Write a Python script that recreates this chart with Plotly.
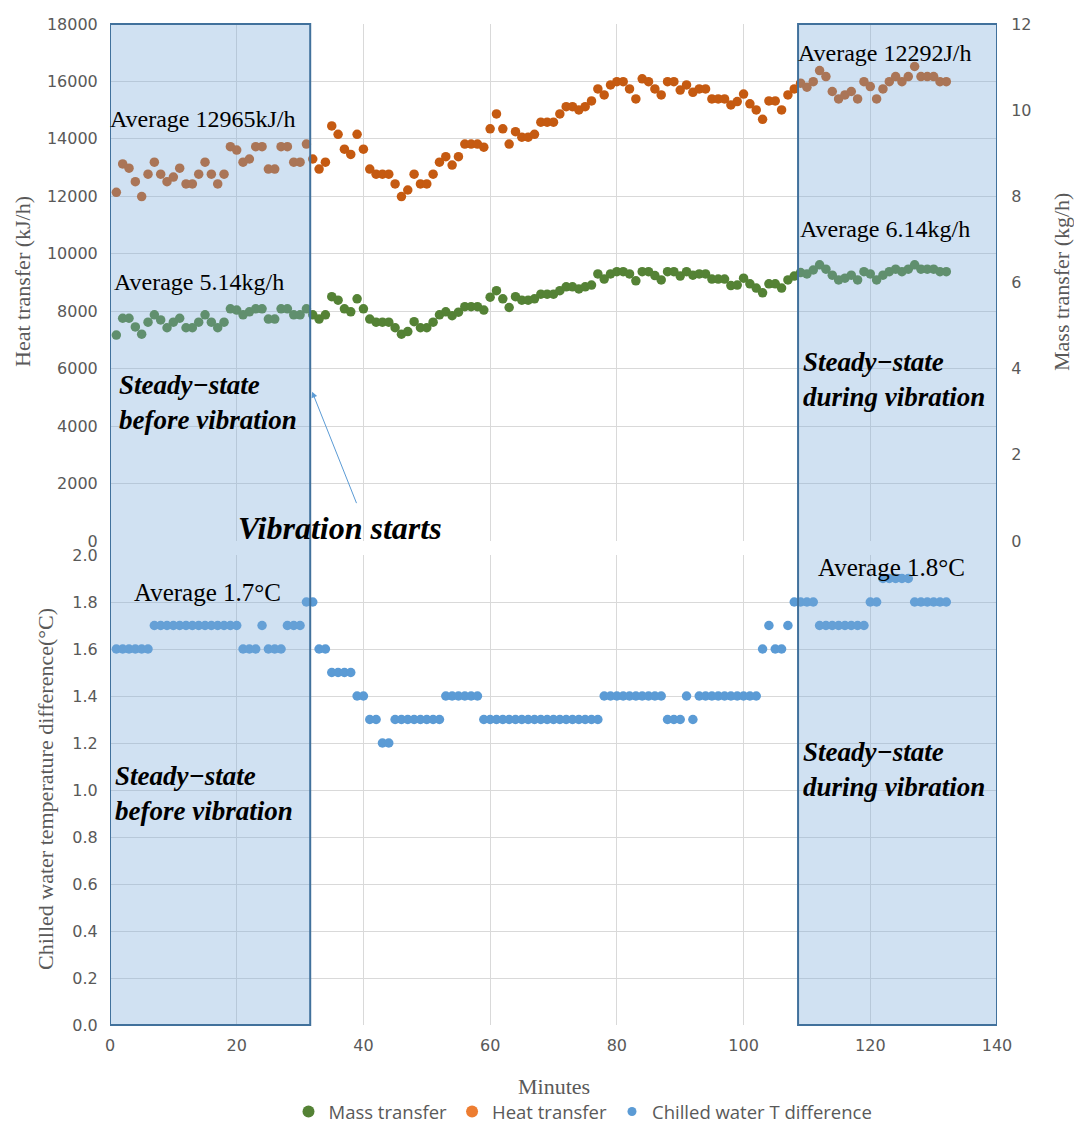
import plotly.graph_objects as go

# ---------------- data ----------------
minutes = list(range(1, 133))

heat_transfer = [
    12140, 13130, 12980, 12510, 11990, 12770, 13190, 12770, 12510, 12670,
    12980, 12430, 12430, 12770, 13190, 12770, 12430, 12770, 13730, 13610,
    13190, 13300, 13730, 13730, 12950, 12950, 13730, 13730, 13190, 13190,
    13820, 13300, 12950, 13190, 14450, 14160, 13640, 13460, 14160, 13640,
    12950, 12770, 12770, 12770, 12430, 11990, 12220, 12770, 12430, 12430,
    12770, 13190, 13380, 13090, 13380, 13820, 13820, 13820, 13710, 14350,
    14870, 14350, 13820, 14250, 14060, 14060, 14160, 14580, 14580, 14580,
    14870, 15120, 15120, 15010, 15120, 15320, 15740, 15530, 15880, 15990,
    15990, 15740, 15390, 16090, 15990, 15740, 15530, 15990, 15990, 15700,
    15880, 15620, 15740, 15740, 15390, 15390, 15390, 15180, 15300, 15560,
    15220, 15010, 14680, 15320, 15320, 15010, 15530, 15740, 15940, 15800,
    15990, 16380, 16170, 15650, 15390, 15530, 15650, 15390, 15990, 15820,
    15390, 15740, 15990, 16170, 15990, 16170, 16520, 16170, 16170, 16170,
    15990, 15990,
]

mass_transfer = [
    4.78, 5.17, 5.17, 4.97, 4.80, 5.08, 5.25, 5.13, 4.95, 5.08,
    5.17, 4.95, 4.95, 5.08, 5.25, 5.08, 4.95, 5.08, 5.39, 5.36,
    5.25, 5.32, 5.39, 5.39, 5.15, 5.15, 5.39, 5.39, 5.25, 5.25,
    5.39, 5.25, 5.15, 5.25, 5.67, 5.59, 5.39, 5.32, 5.62, 5.39,
    5.15, 5.08, 5.08, 5.08, 4.95, 4.80, 4.86, 5.09, 4.95, 4.95,
    5.08, 5.25, 5.32, 5.23, 5.31, 5.44, 5.44, 5.44, 5.36, 5.66,
    5.81, 5.62, 5.42, 5.67, 5.59, 5.59, 5.62, 5.73, 5.73, 5.73,
    5.81, 5.90, 5.90, 5.85, 5.90, 5.94, 6.20, 6.08, 6.20, 6.25,
    6.25, 6.20, 6.04, 6.25, 6.25, 6.16, 6.06, 6.25, 6.25, 6.15,
    6.25, 6.17, 6.20, 6.20, 6.08, 6.08, 6.08, 5.93, 5.94, 6.10,
    5.97, 5.87, 5.76, 5.97, 5.97, 5.87, 6.06, 6.15, 6.23, 6.20,
    6.29, 6.41, 6.31, 6.17, 6.06, 6.10, 6.17, 6.06, 6.25, 6.20,
    6.06, 6.17, 6.25, 6.31, 6.25, 6.31, 6.41, 6.31, 6.31, 6.31,
    6.25, 6.25,
]

chilled_dt = [
    1.6, 1.6, 1.6, 1.6, 1.6, 1.6, 1.7, 1.7, 1.7, 1.7,
    1.7, 1.7, 1.7, 1.7, 1.7, 1.7, 1.7, 1.7, 1.7, 1.7,
    1.6, 1.6, 1.6, 1.7, 1.6, 1.6, 1.6, 1.7, 1.7, 1.7,
    1.8, 1.8, 1.6, 1.6, 1.5, 1.5, 1.5, 1.5, 1.4, 1.4,
    1.3, 1.3, 1.2, 1.2, 1.3, 1.3, 1.3, 1.3, 1.3, 1.3,
    1.3, 1.3, 1.4, 1.4, 1.4, 1.4, 1.4, 1.4, 1.3, 1.3,
    1.3, 1.3, 1.3, 1.3, 1.3, 1.3, 1.3, 1.3, 1.3, 1.3,
    1.3, 1.3, 1.3, 1.3, 1.3, 1.3, 1.3, 1.4, 1.4, 1.4,
    1.4, 1.4, 1.4, 1.4, 1.4, 1.4, 1.4, 1.3, 1.3, 1.3,
    1.4, 1.3, 1.4, 1.4, 1.4, 1.4, 1.4, 1.4, 1.4, 1.4,
    1.4, 1.4, 1.6, 1.7, 1.6, 1.6, 1.7, 1.8, 1.8, 1.8,
    1.8, 1.7, 1.7, 1.7, 1.7, 1.7, 1.7, 1.7, 1.7, 1.8,
    1.8, 1.9, 1.9, 1.9, 1.9, 1.9, 1.8, 1.8, 1.8, 1.8,
    1.8, 1.8,
]

steady_before = (0, 31.6)
steady_during = (108.6, 140)

series_names = ["Mass transfer", "Heat transfer", "Chilled water T difference"]

# ---------------- layout helpers ----------------
OFF = 0                      # body margin removed via post_script
W, H = 1074, 1124            # figure size
L, T = 110 - OFF, 24 - OFF
R = W - (997 - OFF)
B = H - (1025 - OFF)
PW, PH = W - L - R, H - T - B


def xp(px):
    """page pixel x -> paper x"""
    return (px - OFF - L) / PW


def yp(py):
    """page pixel y -> paper y"""
    return (H - B - (py - OFF)) / PH


SERIF = "Liberation Serif, Times New Roman, serif"
SANS = "DejaVu Sans, Open Sans, sans-serif"
LEGSANS = "Open Sans, DejaVu Sans, sans-serif"
GRAY = "#595959"
GRID = "#d9d9d9"

fig = go.Figure()

fig.add_trace(go.Scatter(x=minutes, y=heat_transfer, mode="markers", xaxis="x2", yaxis="y2",
                         marker=dict(color="#c55a11", size=9.5), showlegend=False, name=series_names[1]))
fig.add_trace(go.Scatter(x=minutes, y=mass_transfer, mode="markers", xaxis="x2", yaxis="y3",
                         marker=dict(color="#548235", size=9.5), showlegend=False, name=series_names[0]))
fig.add_trace(go.Scatter(x=minutes, y=chilled_dt, mode="markers", xaxis="x", yaxis="y",
                         marker=dict(color="#5b9bd5", size=9.5), showlegend=False, name=series_names[2]))

# legend entries
for name, col, sz in [(series_names[0], "#548235", 12), (series_names[1], "#ed7d31", 12),
                      (series_names[2], "#5b9bd5", 9)]:
    fig.add_trace(go.Scatter(x=[None], y=[None], mode="markers", name=name,
                             marker=dict(color=col, size=sz), xaxis="x", yaxis="y"))

top_dom = [yp(541), 1.0]
bot_dom = [0.0, yp(555)]

tickfont = dict(family=SANS, size=16, color=GRAY)
axis_common = dict(showgrid=True, gridcolor=GRID, gridwidth=1, zeroline=False, showline=False,
                   tickfont=tickfont, automargin=False)

fig.update_layout(
    width=W, height=H,
    margin=dict(l=L, r=R, t=T, b=B, autoexpand=False),
    paper_bgcolor="white", plot_bgcolor="white",
    xaxis=dict(domain=[0, 1], range=[0, 140], dtick=20, anchor="y", ticks="outside",
               ticklen=6, tickcolor="rgba(0,0,0,0)", **axis_common),
    yaxis=dict(domain=bot_dom, range=[0, 2.0], dtick=0.2, tickformat=".1f", anchor="x",
               ticks="outside", ticklen=8, tickcolor="rgba(0,0,0,0)", **axis_common),
    xaxis2=dict(domain=[0, 1], range=[0, 140], dtick=20, anchor="y2", matches="x",
                showticklabels=False, ticks="", showgrid=True, gridcolor=GRID, zeroline=False),
    yaxis2=dict(domain=top_dom, range=[0, 18000], dtick=2000, tickformat="d", anchor="x2",
                ticks="outside", ticklen=8, tickcolor="rgba(0,0,0,0)", **axis_common),
    yaxis3=dict(domain=top_dom, range=[0, 12], dtick=2, anchor="x2", overlaying="y2", side="right",
                showgrid=False, zeroline=False, tickfont=tickfont, automargin=False,
                ticks="outside", ticklen=10, tickcolor="rgba(0,0,0,0)"),
    legend=dict(orientation="h", x=xp(583), xanchor="center", y=yp(1112), yanchor="middle",
                font=dict(family=LEGSANS, size=18.5, color=GRAY), bgcolor="rgba(0,0,0,0)",
                itemwidth=30, tracegroupgap=0),
    showlegend=True,
)

# shaded steady-state regions
for x0, x1 in [steady_before, steady_during]:
    fig.add_shape(type="rect", xref="x", yref="paper", x0=x0, x1=x1, y0=0, y1=1,
                  fillcolor="rgba(121,169,218,0.35)", line=dict(color="#41719c", width=2), layer="above")

ann = []


def text(px, py, s, size, anchor="left", bold_italic=False, color="black", family=SERIF):
    if bold_italic:
        s = "<b><i>" + s + "</i></b>"
    ann.append(dict(x=xp(px), y=yp(py), xref="paper", yref="paper", text=s, showarrow=False,
                    xanchor=anchor, yanchor="middle", align="left",
                    font=dict(family=family, size=size, color=color)))


text(108, 119, "Average 12965kJ/h", 24)
text(796, 53, "Average 12292J/h", 24)
text(112, 282, "Average 5.14kg/h", 24)
text(798, 229, "Average 6.14kg/h", 24)
text(117, 402, "Steady−state<br>before vibration", 27, bold_italic=True)
text(801, 379, "Steady−state<br>during vibration", 27, bold_italic=True)
text(236, 528, "Vibration starts", 32, bold_italic=True)
text(132, 592, "Average 1.7°C", 25)
text(816, 567, "Average 1.8°C", 25)
text(113, 793, "Steady−state<br>before vibration", 27, bold_italic=True)
text(801, 769, "Steady−state<br>during vibration", 27, bold_italic=True)

# axis titles
ann.append(dict(x=xp(22), y=yp(282), xref="paper", yref="paper", text="Heat transfer (kJ/h)",
                textangle=-90, showarrow=False, xanchor="center", yanchor="middle",
                font=dict(family=SERIF, size=22, color=GRAY)))
ann.append(dict(x=xp(1061), y=yp(282), xref="paper", yref="paper", text="Mass transfer (kg/h)",
                textangle=-90, showarrow=False, xanchor="center", yanchor="middle",
                font=dict(family=SERIF, size=22, color=GRAY)))
ann.append(dict(x=xp(45), y=yp(789), xref="paper", yref="paper",
                text="Chilled water temperature difference(°C)",
                textangle=-90, showarrow=False, xanchor="center", yanchor="middle",
                font=dict(family=SERIF, size=22, color=GRAY)))
ann.append(dict(x=xp(554), y=yp(1086), xref="paper", yref="paper", text="Minutes",
                showarrow=False, xanchor="center", yanchor="middle",
                font=dict(family=SERIF, size=22, color=GRAY)))

# arrow "Vibration starts"
arrow_head_min = 31.9
arrow_head_val = 5200
ann.append(dict(x=arrow_head_min, y=arrow_head_val, xref="x2", yref="y2", text="", showarrow=True,
                ax=45, ay=113, arrowhead=2, arrowsize=1.2, arrowwidth=1, arrowcolor="#5b9bd5"))

fig.update_layout(annotations=ann)

fig.write_html(
    "out.html",
    config={"displayModeBar": False},
    post_script="document.body.style.margin='0';document.body.style.overflow='hidden';",
)
